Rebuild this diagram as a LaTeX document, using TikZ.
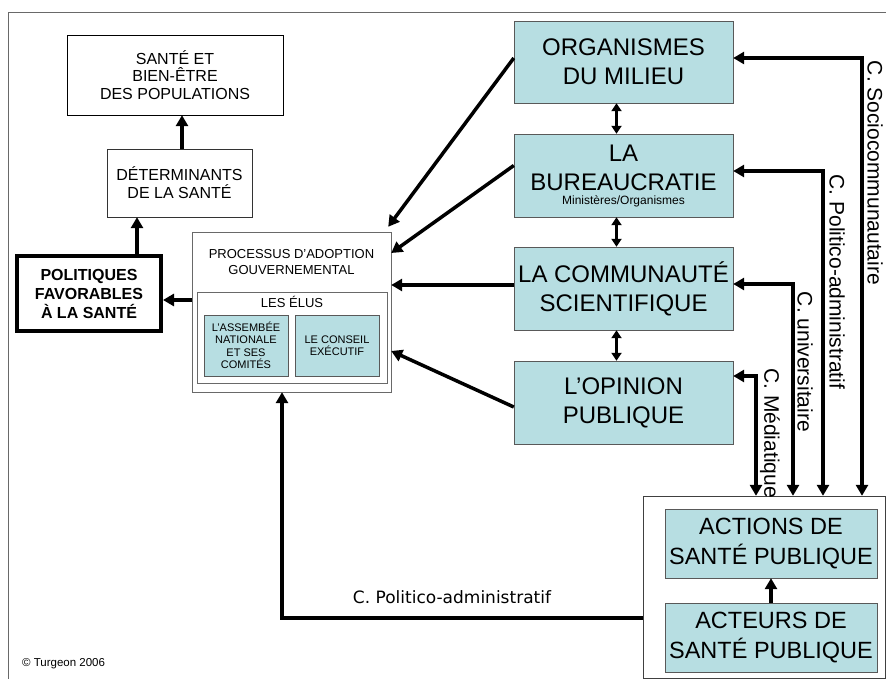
\documentclass[tikz,border=0pt]{standalone}
\usepackage{fontspec}
\setmainfont{Liberation Sans}
\newfontfamily\dejavu{DejaVu Sans}
\usetikzlibrary{arrows.meta,calc,positioning}
\definecolor{bleupale}{RGB}{183,222,226}
\definecolor{cadre}{RGB}{105,105,105}

\begin{document}
\begin{tikzpicture}[x=1pt,y=-1pt,
    boite/.style={draw, align=center, inner sep=0pt},
    bleue/.style={boite, fill=bleupale, draw=black!65},
    grand/.style={font=\fontsize{24}{29}\selectfont},
    fleche/.style={line width=3.5pt, -{Triangle[length=11pt,width=12pt]}},
    dfleche/.style={line width=3pt, {Triangle[length=8pt,width=10pt]}-{Triangle[length=8pt,width=10pt]}},
    lien/.style={line width=3.5pt, {Triangle[length=11pt,width=12pt]}-{Triangle[length=11pt,width=12pt]}},
    etiq/.style={rotate=-90, font=\fontsize{21}{24}\selectfont, inner sep=0pt}]
    \useasboundingbox (0,0) rectangle (886,679);

    % cadre
    \draw[cadre] (8,679) -- (8,12) -- (886,12);

    % colonne de gauche
    \node[boite, minimum width=216pt, minimum height=80pt, font=\fontsize{16}{17.5}\selectfont] (sante) at (175,75) {SANTÉ ET\\BIEN-ÊTRE\\DES POPULATIONS};
    \node[boite, draw=black!80, minimum width=145pt, minimum height=68pt, font=\fontsize{16}{18}\selectfont] (determ) at (179.5,183) {DÉTERMINANTS\\DE LA SANTÉ};
    \node[boite, line width=4pt, minimum width=144pt, minimum height=75pt, font=\bfseries\fontsize{16}{19}\selectfont] (politiques) at (89,293.5) {POLITIQUES\\FAVORABLES\\À LA SANTÉ};

    % processus
    \node[boite, draw=cadre, minimum width=199pt, minimum height=160pt] (processus) at (291.5,312) {};
    \node[font=\fontsize{13}{16}\selectfont, align=center, inner sep=0pt] (proctitre) at (291.5,262) {PROCESSUS D'ADOPTION\\GOUVERNEMENTAL};
    \node[boite, draw=cadre, minimum width=190pt, minimum height=91pt] (elus) at (292,337.5) {};
    \node[font=\fontsize{13}{15}\selectfont, inner sep=0pt] (elustitre) at (292,302) {LES ÉLUS};
    \node[bleue, minimum width=84pt, minimum height=61pt, font=\fontsize{11}{12.5}\selectfont] (assemblee) at (246,345.5) {L'ASSEMBÉE\\NATIONALE\\ET SES\\COMITÉS};
    \node[bleue, minimum width=84pt, minimum height=61pt, font=\fontsize{11}{12.5}\selectfont] (conseil) at (337,345.5) {LE CONSEIL\\EXÉCUTIF};

    % colonne de droite
    \node[bleue, grand, minimum width=219pt, minimum height=82pt] (organismes) at (623.5,62) {ORGANISMES\\DU MILIEU};
    \node[bleue, grand, minimum width=219pt, minimum height=83pt] (bureau) at (623.5,175.5) {LA\\BUREAUCRATIE\\[-15pt]{\fontsize{12}{13}\selectfont Ministères/Organismes}};
    \node[bleue, grand, minimum width=219pt, minimum height=83pt] (communaute) at (623.5,288.5) {LA COMMUNAUTÉ\\SCIENTIFIQUE};
    \node[bleue, grand, minimum width=219pt, minimum height=83pt] (opinion) at (623.5,402.5) {L’OPINION\\PUBLIQUE};

    % bloc sante publique
    \node[boite, draw=black!75, minimum width=242pt, minimum height=182pt] (actionsbloc) at (764,587) {};
    \node[bleue, font=\fontsize{23.5}{30}\selectfont, minimum width=212pt, minimum height=69pt] (actions) at (771,543.5) {ACTIONS DE\\SANTÉ PUBLIQUE};
    \node[bleue, font=\fontsize{23.5}{30}\selectfont, minimum width=212pt, minimum height=69pt] (acteurs) at (771,637.5) {ACTEURS DE\\SANTÉ PUBLIQUE};

    % fleches a gauche
    \draw[fleche] ([xshift=2.5pt]determ.north) -- ([xshift=2.5pt]determ.north |- sante.south);
    \draw[fleche] ([xshift=48pt]politiques.north) -- ([xshift=48pt]politiques.north |- determ.south);
    \draw[fleche] ([yshift=12pt]processus.west) -- ([yshift=12pt]processus.west -| politiques.east);

    % vers le processus
    \draw[fleche] ([yshift=4pt]organismes.west) -- ([shift={(-3pt,5pt)}]processus.north east);
    \draw[fleche] ([yshift=10pt]bureau.west) -- ([yshift=59pt]processus.east);
    \draw[fleche] ([yshift=3.5pt]communaute.west) -- ([yshift=3.5pt]communaute.west -| processus.east);
    \draw[fleche] ([yshift=-4.5pt]opinion.west) -- ([yshift=-39pt]processus.east);

    \foreach \haut/\bas in {organismes/bureau, bureau/communaute, communaute/opinion}
        \draw[dfleche] ([xshift=-7pt]\haut.south) -- ([xshift=-7pt]\bas.north);

    % canaux
    \draw[lien] ([yshift=4pt]organismes.east) -| ([xshift=98pt]actionsbloc.north);
    \draw[lien] ([yshift=4.5pt]bureau.east) -| ([xshift=59pt]actionsbloc.north);
    \draw[lien] ([yshift=4.5pt]communaute.east) -| ([xshift=29pt]actionsbloc.north);
    \draw[lien] ([yshift=26.5pt]opinion.east) -| ([xshift=-8pt]actionsbloc.north);
    \node[etiq] (lsocio) at (875,173) {C. Sociocommunautaire};
    \node[etiq] (lpolitico) at (837,282) {C. Politico-administratif};
    \node[etiq] (luniv) at (805,362) {C. universitaire};
    \node[etiq] (lmedia) at (770,433) {C. Médiatique};

    \draw[fleche] (acteurs.north) -- (actions.south);
    \draw[fleche] ([yshift=-31pt]actionsbloc.west) -| ([xshift=-9.5pt]processus.south);
    \node[font=\dejavu\fontsize{17}{20}\selectfont, inner sep=0pt] (lretour) at (452,597) {C. Politico-administratif};

    \node[anchor=west, font=\fontsize{11.5}{13}\selectfont, inner sep=0pt] (droits) at (22,664) {© Turgeon 2006};
\end{tikzpicture}
\end{document}
